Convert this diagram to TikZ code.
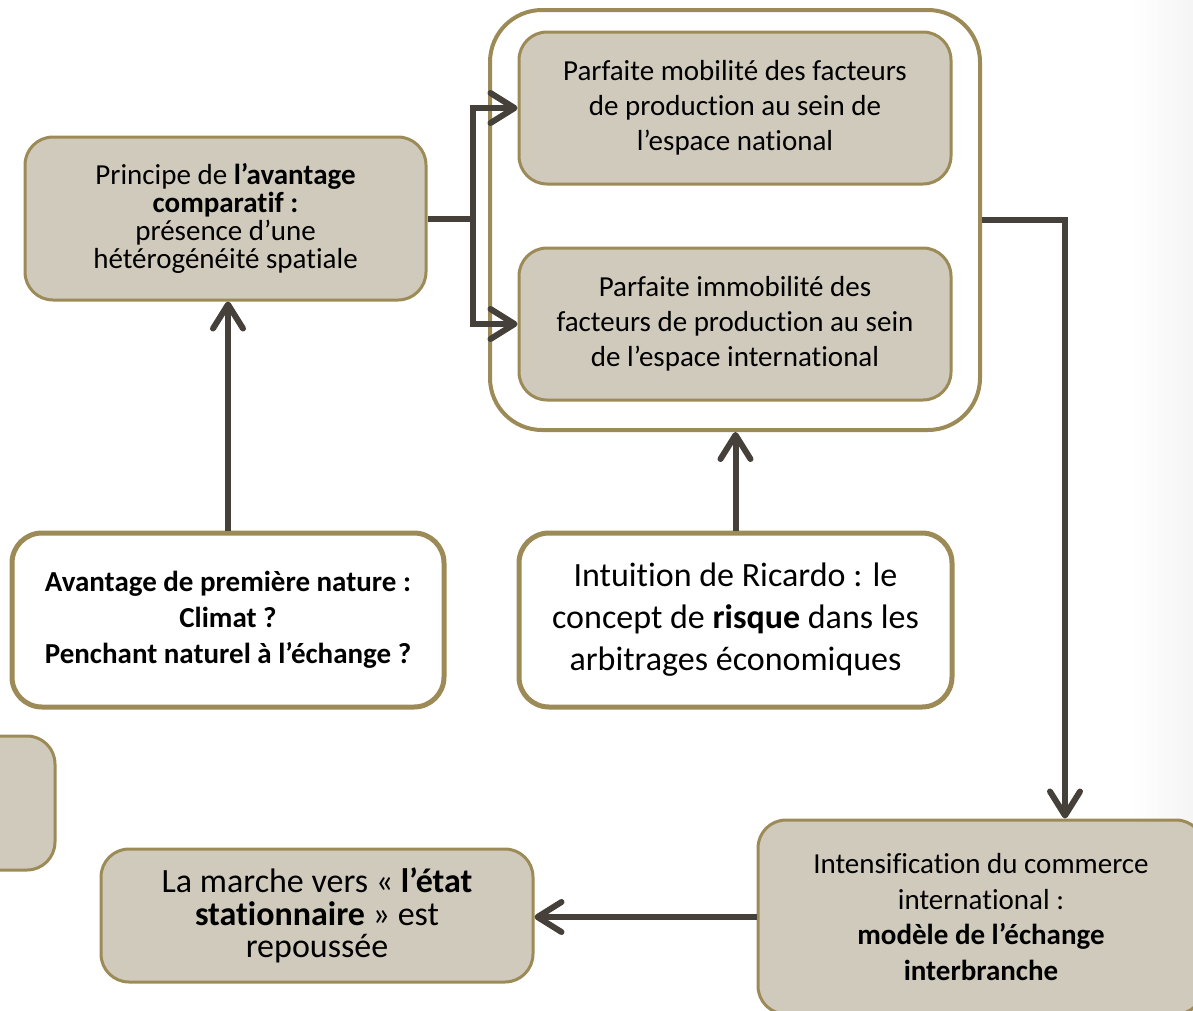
\documentclass[tikz,border=0pt]{standalone}
\usepackage{fontspec}
\setmainfont[Ligatures={NoCommon,NoRequired,NoContextual},RawFeature={-liga;-clig;-dlig;-calt}]{Carlito}
\usetikzlibrary{arrows.meta,calc}
\definecolor{boxfill}{HTML}{D0CABC}
\definecolor{boxedge}{HTML}{9C8B57}
\definecolor{linecol}{HTML}{45403A}
\tikzset{
  beigebox/.style={draw=boxedge, fill=boxfill, line width=3pt, rounded corners=28pt, align=center, inner sep=0pt},
  whitebox/.style={draw=boxedge, fill=white, line width=5pt, rounded corners=30pt, align=center, inner sep=0pt},
  conn/.style={draw=linecol, line width=6pt},
  arr/.style={conn, -{Straight Barb[length=24pt, width=30pt, round]}},
  fs/.style={font=\fontsize{29}{#1}\selectfont},
  fb/.style={font=\fontsize{34}{#1}\selectfont},
}
\begin{document}
\begin{tikzpicture}[x=1pt, y=-1pt]
\useasboundingbox (0,0) rectangle (1193,1010);
\clip (0,0) rectangle (1193,1010);
\shade[left color=white, right color=black!4] (1130,0) rectangle (1193,1010);
% outer white container
\node[draw=boxedge, fill=white, line width=4pt, rounded corners=52pt, minimum width=490pt, minimum height=420pt] (outer) at (735,220) {};
% boxes
\node[beigebox, fs=28, minimum width=401pt, minimum height=163pt] (prin) at (225.5,218.5)
  {Principe de \textbf{l’avantage}\\ \textbf{comparatif~:}\\ présence d’une\\ hétérogénéité spatiale};
\node[beigebox, fs=35, minimum width=432pt, minimum height=152pt] (mob) at (735,108)
  {Parfaite mobilité des facteurs\\ de production au sein de\\ l’espace national};
\node[beigebox, fs=35, minimum width=432pt, minimum height=152pt] (immob) at (735,324)
  {Parfaite immobilité des\\ facteurs de production au sein\\ de l’espace international};
\node[whitebox, fs=36, minimum width=432pt, minimum height=174pt] (avant) at (228,620)
  {\textbf{Avantage de première nature~:}\\ \textbf{Climat~?}\\ \textbf{Penchant naturel à l’échange~?}};
\node[whitebox, fb=42, minimum width=433pt, minimum height=174pt] (intu) at (735.5,620)
  {Intuition de Ricardo~: le\\ concept de \textbf{risque} dans les\\ arbitrages économiques};
\node[beigebox, minimum width=110pt, minimum height=134pt] (partial) at (0,803) {};
\node[beigebox, fb=32.5, minimum width=432pt, minimum height=133pt] (marche) at (317,915.5)
  {La marche vers «~\textbf{l’état}\\ \textbf{stationnaire}~» est\\ repoussée};
\node[beigebox, fs=35.5, minimum width=446pt, minimum height=194pt] (inten) at (981,917)
  {Intensification du commerce\\ international~:\\ \textbf{modèle de l’échange}\\ \textbf{interbranche}};
% connectors
\draw[conn] (prin.east) -- ++(45,0) coordinate (jn);
\draw[arr] (jn) |- (mob.west);
\draw[arr] (jn) |- (immob.west);
\draw[arr] (avant.north) -- (avant.north |- prin.south);
\draw[arr] (intu.north) -- (intu.north |- outer.south);
\draw[arr] (outer.east) -| ([xshift=84pt]inten.north);
\draw[arr] (inten.west) -- (inten.west -| marche.east);
\end{tikzpicture}
\end{document}
